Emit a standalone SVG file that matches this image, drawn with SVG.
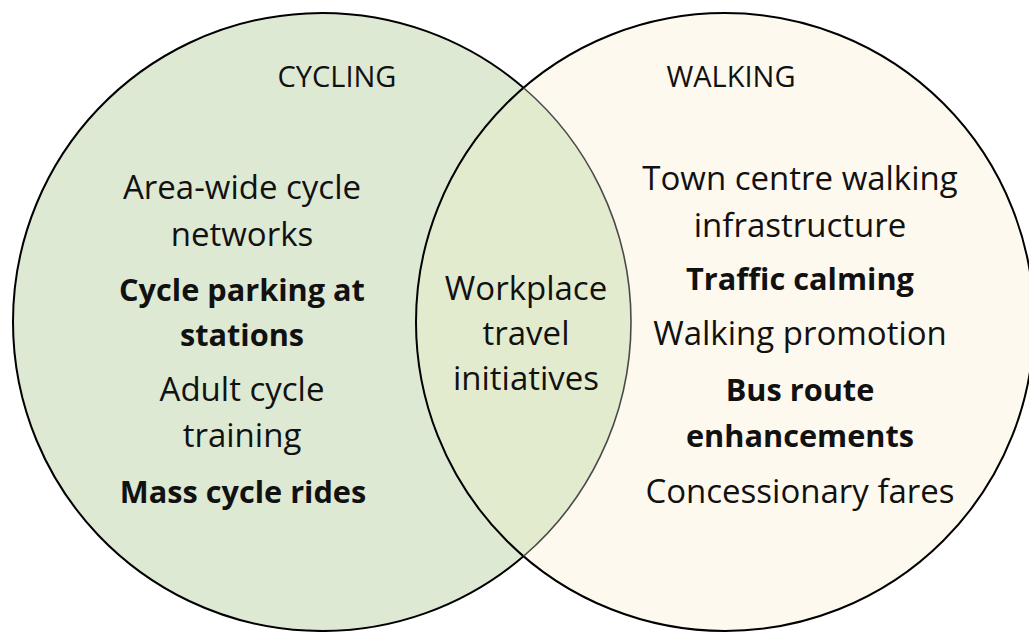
<svg xmlns="http://www.w3.org/2000/svg" width="1029" height="632" viewBox="0 0 1029 632">
  <style>
    .t { font-family: "Open Sans", "Noto Sans", "Liberation Sans", sans-serif; font-size: 33px; fill: #111; text-anchor: middle; }
    .b { font-weight: bold; font-size: 30.7px; }
    .h { font-size: 29px; }
    .edge { fill: none; stroke: #000; stroke-width: 2; }
    .inner { fill: none; stroke: #4a4a4a; stroke-width: 1.6; }
  </style>
  <rect width="1029" height="632" fill="#fff"/>

  <!-- Walking set -->
  <g id="walking-circle">
    <circle cx="725" cy="322" r="309" fill="#fef9ee"/>
  </g>
  <!-- Cycling set -->
  <g id="cycling-circle">
    <circle cx="322" cy="322" r="309" fill="#dde9d3"/>
  </g>
  <!-- Shared region -->
  <g id="overlap">
    <path d="M523.5,87.74 A309,309 0 0 1 523.5,556.26 A309,309 0 0 1 523.5,87.74 Z" fill="#e3ebcf"/>
  </g>

  <!-- Outlines -->
  <g id="outlines">
    <circle class="edge" cx="725" cy="322" r="309"/>
    <path class="edge" d="M523.5,87.74 A309,309 0 1 0 523.5,556.26"/>
    <path class="inner" d="M523.5,87.74 A309,309 0 0 1 523.5,556.26"/>
  </g>

  <g id="cycling-labels">
    <text class="t h" x="337" y="87">CYCLING</text>
    <text class="t" x="242" y="199">Area-wide cycle</text>
    <text class="t" x="242" y="246">networks</text>
    <text class="t b" x="242" y="301">Cycle parking at</text>
    <text class="t b" x="242" y="346">stations</text>
    <text class="t" x="242" y="401">Adult cycle</text>
    <text class="t" x="242" y="447">training</text>
    <text class="t b" x="243" y="503">Mass cycle rides</text>
  </g>

  <g id="shared-labels">
    <text class="t" x="526" y="300">Workplace</text>
    <text class="t" x="526" y="345">travel</text>
    <text class="t" x="526" y="390">initiatives</text>
  </g>

  <g id="walking-labels">
    <text class="t h" x="731" y="87">WALKING</text>
    <text class="t" x="800" y="190">Town centre walking</text>
    <text class="t" x="800" y="237">infrastructure</text>
    <text class="t b" x="800" y="290">Traffic calming</text>
    <text class="t" x="800" y="345">Walking promotion</text>
    <text class="t b" x="800" y="401">Bus route</text>
    <text class="t b" x="800" y="447">enhancements</text>
    <text class="t" x="800" y="503">Concessionary fares</text>
  </g>
</svg>
